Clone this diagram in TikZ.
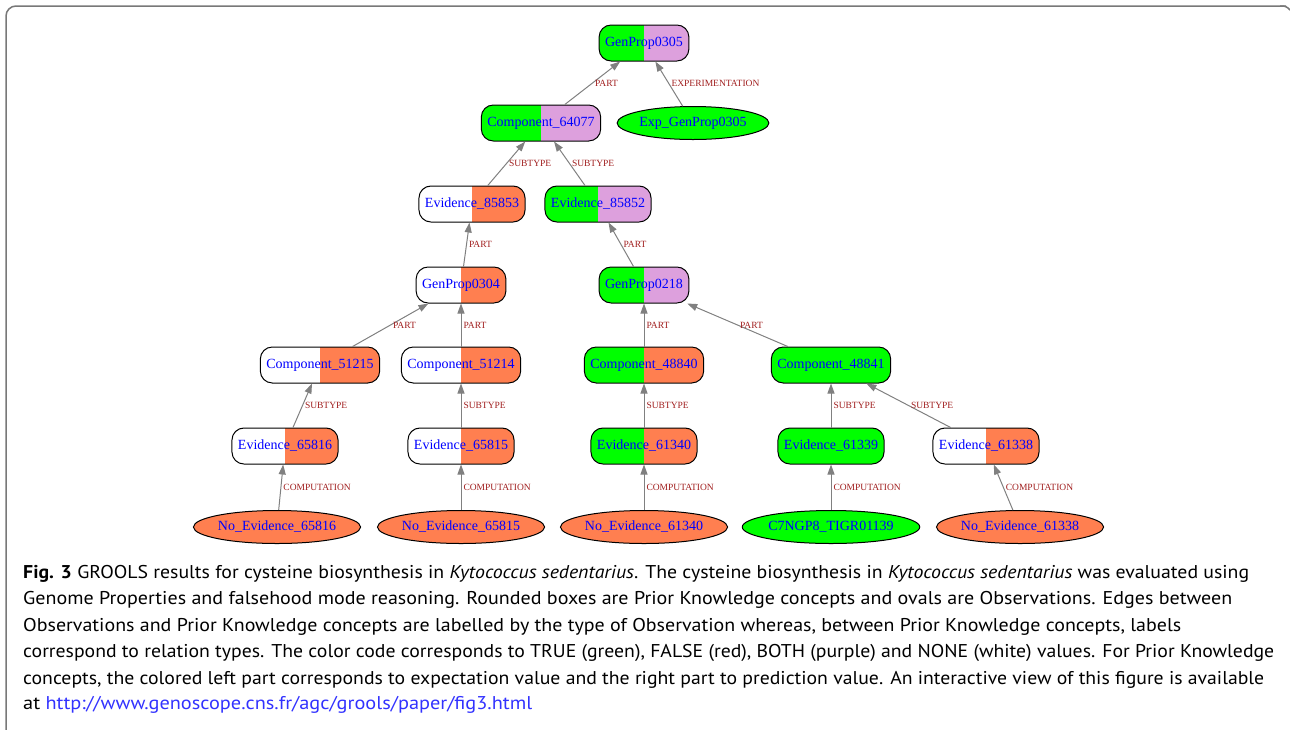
\documentclass[tikz,border=0pt]{standalone}
\usepackage{fontspec}
\setmainfont{Liberation Serif}
\newfontfamily\capfont{PT Sans}
\usetikzlibrary{arrows.meta,shapes.geometric}
\definecolor{truegreen}{RGB}{0,255,0}
\definecolor{bothplum}{RGB}{221,160,221}
\definecolor{falsecoral}{RGB}{255,127,80}
\definecolor{nodeblue}{RGB}{0,0,255}
\definecolor{labelred}{RGB}{160,30,30}
\definecolor{edgegray}{RGB}{128,128,128}
\definecolor{framegray}{RGB}{120,120,120}
\definecolor{urlblue}{RGB}{50,50,255}
\begin{document}
\begin{tikzpicture}[x=1pt,y=-1pt,
	pk/.style 2 args={draw=black,line width=1pt,rounded corners=12pt,
		minimum height=36pt,inner xsep=6pt,text=nodeblue,
		font=\fontsize{14}{16}\selectfont,
		path picture={\fill[#1,sharp corners](path picture bounding box.south west) rectangle (path picture bounding box.north);
			\fill[#2,sharp corners](path picture bounding box.south) rectangle (path picture bounding box.north east);}},
	obs/.style={ellipse,draw=black,line width=1pt,fill=#1,minimum height=33pt,
		inner xsep=0pt,text=nodeblue,font=\fontsize{14}{16}\selectfont},
	rel/.style={draw=edgegray,line width=1pt,-{Triangle[length=10pt,width=7pt]}},
	lab/.style={right,text=labelred,font=\fontsize{9.5}{11}\selectfont,inner sep=2pt},
	capline/.style={anchor=base west,inner sep=0pt,font=\capfont\fontsize{18.5}{22}\selectfont}]
	
	\useasboundingbox (0,0) rectangle (1290,729);
	\draw[framegray,line width=1.5pt,rounded corners=10pt](6,731)--(6,6)--(1286,6);
	\draw[framegray,line width=1.5pt,rounded corners=3pt](1280,6)--(1286,6)--(1290,10);
	
	% prior knowledge concepts
	\node[pk={truegreen}{bothplum}] (gp0305) at (644,43){GenProp0305};
	\node[pk={truegreen}{bothplum}] (c64077) at (541,123){Component\_64077};
	\node[pk={white}{falsecoral}] (e85853) at (472,204){Evidence\_85853};
	\node[pk={truegreen}{bothplum}] (e85852) at (598,204){Evidence\_85852};
	\node[pk={white}{falsecoral}] (gp0304) at (461,285){GenProp0304};
	\node[pk={truegreen}{bothplum}] (gp0218) at (644,285){GenProp0218};
	\node[pk={white}{falsecoral}] (c51215) at (320,365){Component\_51215};
	\node[pk={white}{falsecoral}] (c51214) at (461,365){Component\_51214};
	\node[pk={truegreen}{falsecoral}] (c48840) at (644,365){Component\_48840};
	\node[pk={truegreen}{truegreen}] (c48841) at (831,365){Component\_48841};
	\node[pk={white}{falsecoral}] (e65816) at (285,446){Evidence\_65816};
	\node[pk={white}{falsecoral}] (e65815) at (461,446){Evidence\_65815};
	\node[pk={truegreen}{falsecoral}] (e61340) at (644,446){Evidence\_61340};
	\node[pk={truegreen}{truegreen}] (e61339) at (831,446){Evidence\_61339};
	\node[pk={white}{falsecoral}] (e61338) at (986,446){Evidence\_61338};
	
	% observations
	\node[obs=truegreen] (xgp0305) at (693,123){Exp\_GenProp0305};
	\node[obs=falsecoral] (n65816) at (277,527){No\_Evidence\_65816};
	\node[obs=falsecoral] (n65815) at (461,527){No\_Evidence\_65815};
	\node[obs=falsecoral] (n61340) at (644,527){No\_Evidence\_61340};
	\node[obs=truegreen] (tigr) at (831,527){C7NGP8\_TIGR01139};
	\node[obs=falsecoral] (n61338) at (1020,527){No\_Evidence\_61338};
	
	% relations
	\draw[rel](c64077)--node[lab]{PART}(gp0305);
	\draw[rel](xgp0305)--node[lab]{EXPERIMENTATION}(gp0305);
	\draw[rel](e85853)--node[lab]{SUBTYPE}(c64077);
	\draw[rel](e85852)--node[lab]{SUBTYPE}(c64077);
	\draw[rel](gp0304)--node[lab]{PART}(e85853);
	\draw[rel](gp0218)--node[lab]{PART}(e85852);
	\draw[rel](c51215)--node[lab]{PART}(gp0304);
	\draw[rel](c51214)--node[lab]{PART}(gp0304);
	\draw[rel](c48840)--node[lab]{PART}(gp0218);
	\draw[rel](c48841)--node[lab]{PART}(gp0218);
	\draw[rel](e65816)--node[lab]{SUBTYPE}(c51215);
	\draw[rel](e65815)--node[lab]{SUBTYPE}(c51214);
	\draw[rel](e61340)--node[lab]{SUBTYPE}(c48840);
	\draw[rel](e61339)--node[lab]{SUBTYPE}(c48841);
	\draw[rel](e61338)--node[lab]{SUBTYPE}(c48841);
	\draw[rel](n65816)--node[lab]{COMPUTATION}(e65816);
	\draw[rel](n65815)--node[lab]{COMPUTATION}(e65815);
	\draw[rel](n61340)--node[lab]{COMPUTATION}(e61340);
	\draw[rel](tigr)--node[lab]{COMPUTATION}(e61339);
	\draw[rel](n61338)--node[lab]{COMPUTATION}(e61338);
	
	% caption
	\node[capline] (cap1) at (23,578){\resizebox{1226pt}{\height}{\textbf{Fig. 3} GROOLS results for cysteine biosynthesis in \textit{Kytococcus sedentarius}. The cysteine biosynthesis in \textit{Kytococcus sedentarius} was evaluated using}};
	\node[capline] (cap2) at (23,604){\resizebox{1209pt}{\height}{Genome Properties and falsehood mode reasoning. Rounded boxes are Prior Knowledge concepts and ovals are Observations. Edges between}};
	\node[capline] (cap3) at (23,631){\resizebox{1158pt}{\height}{Observations and Prior Knowledge concepts are labelled by the type of Observation whereas, between Prior Knowledge concepts, labels}};
	\node[capline] (cap4) at (23,657){\resizebox{1251pt}{\height}{correspond to relation types. The color code corresponds to TRUE (green), FALSE (red), BOTH (purple) and NONE (white) values. For Prior Knowledge}};
	\node[capline] (cap5) at (23,684){\resizebox{1241pt}{\height}{concepts, the colored left part corresponds to expectation value and the right part to prediction value. An interactive view of this figure is available}};
	\node[capline] (cap6) at (23,709){\resizebox{509pt}{\height}{at \textcolor{urlblue}{http://www.genoscope.cns.fr/agc/grools/paper/fig3.html}}};
\end{tikzpicture}
\end{document}
